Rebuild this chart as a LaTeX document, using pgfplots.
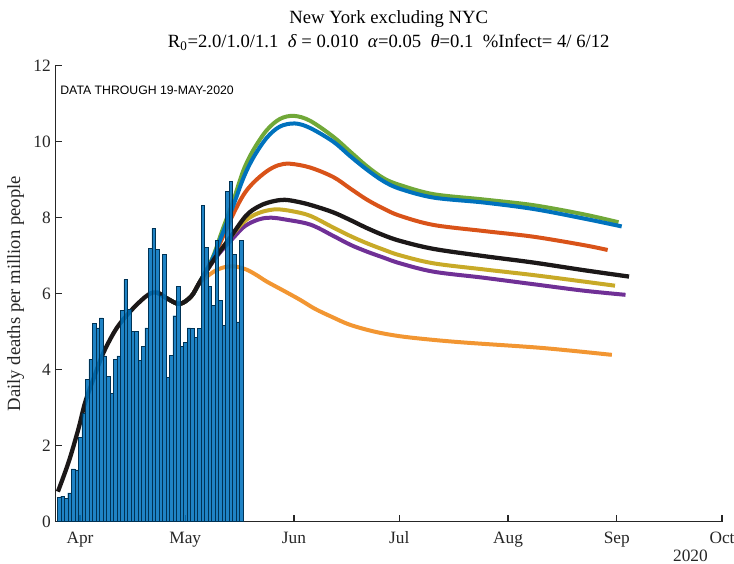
\documentclass[border=0pt]{standalone}
\usepackage{fontspec}
\setmainfont{Liberation Serif}
\newfontfamily\helv{Liberation Sans}
\usepackage{pgfplots}
\pgfplotsset{compat=1.18}

\definecolor{mblue}{RGB}{0,114,189}
\definecolor{mred}{RGB}{217,83,25}
\definecolor{mgold}{RGB}{200,170,40}
\definecolor{mpurple}{RGB}{112,48,150}
\definecolor{mgreen}{RGB}{112,168,56}
\definecolor{morange}{RGB}{242,150,50}
\definecolor{mblack}{RGB}{28,24,24}
\definecolor{axgray}{RGB}{38,38,38}

% daily deaths per million, day 0 = 1 Apr 2020
\pgfplotstableread{
day val
-6 0.64
-5 0.67
-4 0.62
-3 0.76
-2 1.39
-1 1.36
0 2.22
1 2.85
2 3.75
3 4.27
4 5.22
5 5.10
6 5.36
7 4.36
8 3.82
9 3.38
10 4.27
11 4.36
12 5.56
13 6.37
14 5.58
15 5.00
16 5.00
17 4.25
18 4.62
19 5.10
20 7.20
21 7.72
22 7.17
23 5.95
24 7.03
25 3.80
26 4.38
27 5.42
28 6.20
29 4.62
30 4.72
31 5.10
32 5.08
33 4.85
34 5.08
35 8.33
36 7.22
37 6.20
38 5.70
39 7.40
40 5.82
41 5.16
42 8.70
43 8.95
44 7.03
45 5.26
46 7.40
}\deaths

\begin{document}
\begin{tikzpicture}
\path[use as bounding box] (-41.6pt,-31.7pt) rectangle (509pt,391.3pt);
\begin{axis}[
    scale only axis,
    width=500pt, height=342pt,
    xmin=-7, xmax=183, ymin=0, ymax=12,
    axis lines*=left,
    axis line style={line width=0.8pt, color=axgray},
    tick align=inside,
    major tick length=5pt,
    major tick style={line width=0.8pt, color=axgray},
    xtick={0,30,61,91,122,153,183},
    xticklabels={Apr,May,Jun,Jul,Aug,Sep,Oct},
    ytick={0,2,4,6,8,10,12},
    /pgf/number format/assume math mode=true,
    tick label style={font=\fontsize{13}{15}\selectfont, text=axgray},
    xticklabel style={yshift=-4pt},
    ylabel={Daily deaths per million people},
    ylabel style={font=\fontsize{14}{16}\selectfont, text=axgray},
    clip=false,
    curve/.style={smooth, tension=0.55, line width=3pt},
]

\addplot[morange, curve] coordinates {
(22,6.03) (25.1,5.86) (28.4,5.73) (31.7,5.93) (34.1,6.28) (37.8,6.56) (40.5,6.68)
(43.7,6.72) (47.3,6.64) (50.5,6.48) (53.2,6.32) (58,6.08) (62.7,5.84) (67,5.60)
(72,5.38) (77,5.18) (84,5.00) (91.2,4.88) (100,4.79) (110.2,4.71) (129.2,4.59)
(140,4.50) (151.6,4.39)};

\addplot[mpurple, curve] coordinates {
(22,6.03) (25.1,5.86) (28.4,5.73) (31.7,5.93) (34.1,6.30) (37.8,6.83) (40.5,7.15)
(43.7,7.47) (46.6,7.75) (49.4,7.90) (52,7.98) (54.6,8.00) (58,7.96) (65.6,7.82)
(72.2,7.52) (77,7.29) (81.7,7.11) (86.5,6.95) (91.2,6.80) (100.7,6.58) (115,6.42)
(129.2,6.25) (143.5,6.08) (155.5,5.97)};

\addplot[mgold, curve] coordinates {
(22,6.03) (25.1,5.86) (28.4,5.73) (31.7,5.93) (34.1,6.30) (37.8,6.85) (40.5,7.20)
(43.7,7.58) (46.6,7.88) (49.4,8.06) (52.5,8.17) (56.1,8.22) (60.5,8.17) (65.6,8.05)
(72.2,7.74) (77,7.52) (81.7,7.33) (86.5,7.16) (91.2,7.01) (100.7,6.80) (115,6.64)
(129.2,6.49) (143.5,6.32) (152.5,6.21)};

\addplot[mred, curve] coordinates {
(22,6.03) (25.1,5.86) (28.4,5.73) (31.7,5.93) (34.1,6.30) (37.8,6.90) (40.5,7.45)
(43.7,8.10) (46.6,8.60) (49.4,8.92) (53.2,9.22) (56.5,9.38) (59.9,9.42) (65.6,9.32)
(72.2,9.07) (77,8.77) (81.7,8.48) (86.5,8.24) (91.2,8.05) (100.7,7.81) (115,7.65)
(129.2,7.50) (143.5,7.28) (150.4,7.15)};

\addplot[mgreen, curve] coordinates {
(22,6.03) (25.1,5.86) (28.4,5.73) (31.7,5.93) (34.1,6.30) (37.8,6.95) (40.5,7.65)
(43.7,8.45) (46.6,9.25) (49.4,9.78) (53.2,10.30) (57,10.60) (61,10.68) (65.6,10.55)
(72.2,10.13) (77,9.74) (81.7,9.36) (86.5,9.04) (91.2,8.86) (100.7,8.62) (115,8.48)
(129.2,8.33) (143.5,8.09) (153.5,7.88)};

\addplot[mblue, curve] coordinates {
(22,6.03) (25.1,5.86) (28.4,5.73) (31.7,5.93) (34.1,6.30) (37.8,6.92) (40.5,7.55)
(43.7,8.32) (46.6,9.05) (49.4,9.58) (53.2,10.10) (57,10.40) (61.3,10.48) (65.6,10.36)
(72.2,10.00) (77,9.62) (81.7,9.27) (86.5,8.96) (91.2,8.76) (100.7,8.53) (115,8.40)
(129.2,8.23) (143.5,7.98) (154.4,7.77)};

\addplot[mblack, curve, line width=3.2pt] coordinates {
(-6.3,0.79) (-3.2,1.58) (-0.4,2.46) (1.5,3.15) (4.4,3.90) (6.7,4.45) (10.5,5.10)
(15.2,5.62) (19.4,5.97) (22,6.03) (25.1,5.86) (28.4,5.73) (31.7,5.93) (34.1,6.30)
(37.8,6.85) (42.6,7.45) (47.3,8.05) (51,8.30) (54.5,8.42) (58.4,8.47) (63,8.40)
(67,8.30) (72.2,8.14) (77,7.94) (81.7,7.73) (86.5,7.54) (91.2,7.39) (100.7,7.18)
(115,6.99) (129.2,6.82) (143.5,6.62) (156.5,6.45)};

\addplot[ybar, bar width=1, bar shift=0pt, fill=mblue, fill opacity=0.88,
    draw=mblue!45!black, line width=0.3pt] table[x=day, y=val] {\deaths};

\node[anchor=north west, font=\helv\fontsize{9.2}{11}\selectfont, inner sep=0pt]
    at (rel axis cs:0.007,0.957) {DATA THROUGH 19-MAY-2020};

\node[anchor=base, font=\fontsize{14}{16}\selectfont, inner sep=0pt]
    at (rel axis cs:0.5,1) [yshift=32pt] {New York excluding NYC};
\node[anchor=base, font=\fontsize{14}{16}\selectfont, inner sep=0pt]
    at (rel axis cs:0.5,1) [yshift=13.3pt]
    {R\textsubscript{0}=2.0/1.0/1.1\ \ \textit{δ} = 0.010\ \ \textit{α}=0.05\ \ \textit{θ}=0.1\ \ \%Infect= 4/ 6/12};

\node[anchor=base east, font=\fontsize{13}{15}\selectfont, text=axgray, inner sep=0pt]
    at (rel axis cs:1,0) [xshift=-10.5pt, yshift=-30pt] {2020};
\end{axis}
\end{tikzpicture}
\end{document}
